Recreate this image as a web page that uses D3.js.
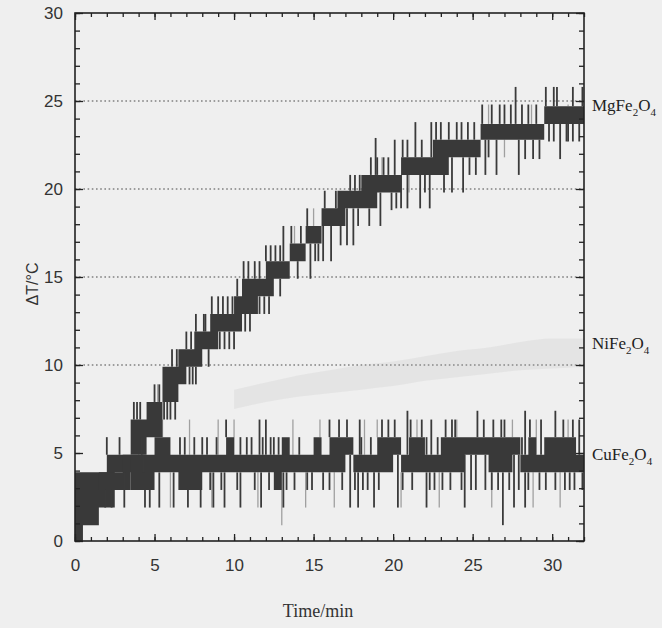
<!DOCTYPE html>
<html><head><meta charset="utf-8">
<script src="https://cdn.jsdelivr.net/npm/d3@7"></script>
<style>body{margin:0;background:#efefef}</style>
</head><body>
<svg id="c" width="662" height="628"></svg>
<script>
// ---- data ----
const seriesNames = ["MgFe2O4", "NiFe2O4", "CuFe2O4"];
const labelValue = [24.7, 11.2, 4.9];
const xTickValues = [0, 5, 10, 15, 20, 25, 30];
const yTickValues = [0, 5, 10, 15, 20, 25, 30];
const gridValues = [10, 15, 20, 25];

const timeMin = [0,0.5,1,1.5,2,2.5,3,3.5,4,4.5,5,5.5,6,6.5,7,7.5,8,8.5,9,9.5,10,10.5,11,11.5,12,12.5,13,13.5,14,14.5,15,15.5,16,16.5,17,17.5,18,18.5,19,19.5,20,20.5,21,21.5,22,22.5,23,23.5,24,24.5,25,25.5,26,26.5,27,27.5,28,28.5,29,29.5,30,30.5,31,31.5,32];

const mgLow = [0.0,0.9,0.9,1.9,1.9,2.9,2.9,4.9,4.9,5.9, 5.9,7.9,7.9,8.9,9.9,9.9,10.9,10.9,11.9,11.9, 11.9,12.9,12.9,13.9,13.9,14.9,14.9,15.9,15.9,16.9, 16.9,17.9,17.9,17.9,18.9,18.9,18.9,18.9,19.8,19.8, 19.8,20.8,20.8,20.8,20.8,20.8,20.8,21.8,21.8,21.8, 21.8,22.8,22.8,22.8,22.8,22.8,22.8,22.8,22.8,23.7, 23.7,23.7,23.7,23.7,23.7];
const mgHigh = [2.9,2.9,2.9,3.9,3.9,3.9,4.9,6.9,6.9,7.9, 7.9,9.9,9.9,10.9,10.9,11.9,11.9,12.9,12.9,12.9, 13.9,14.9,14.9,14.9,15.9,15.9,15.9,16.9,16.9,17.9, 17.9,18.9,18.9,19.9,19.9,19.9,20.8,20.8,20.8,20.8, 20.8,21.8,21.8,21.8,21.8,22.8,22.8,22.8,22.8,22.8, 22.8,23.7,23.7,23.7,23.7,23.7,23.7,23.7,23.7,24.7, 24.7,24.7,24.7,24.7,24.7];

const cuLow = [2.9,2.9,2.9,2.9,2.9,3.9,3.9,2.9,2.9,2.9, 3.9,3.9,3.9,2.9,2.9,2.9,3.9,3.9,3.9,3.9, 3.9,3.9,3.9,3.9,3.9,2.9,3.9,3.9,3.9,3.9, 3.9,3.9,3.9,3.9,4.9,3.9,3.9,3.9,3.9,3.9, 4.9,3.9,3.9,3.9,3.9,3.9,3.9,3.9,3.9,4.9, 4.9,4.9,3.9,3.9,3.9,4.9,3.9,3.9,3.9,3.9, 3.9,3.9,3.9,3.9,3.9];
const cuHigh = [3.9,3.9,3.9,3.9,4.9,4.9,4.9,4.9,4.9,4.9, 5.9,5.9,4.9,4.9,4.9,4.9,4.9,4.9,4.9,5.9, 4.9,4.9,4.9,4.9,4.9,4.9,5.9,4.9,4.9,4.9, 5.9,4.9,5.9,5.9,5.9,4.9,4.9,4.9,5.9,5.9, 5.9,4.9,5.9,5.9,4.9,4.9,5.9,5.9,5.9,5.9, 5.9,5.9,5.9,5.9,5.9,5.9,4.9,5.9,4.9,5.9, 5.9,5.9,5.9,4.9,4.9];

const niTime = [10,12,14,16,18,20,22,24,26,28,30,32];
const niLow  = [7.5,7.9,8.2,8.4,8.6,8.8,9.1,9.3,9.5,9.7,9.8,9.9];
const niHigh = [8.6,9.0,9.4,9.7,10.0,10.2,10.5,10.8,11.0,11.3,11.5,11.5];

const mgSpikeTime = [3.7,4.1,4.5,6.1,6.4,6.6,7.0,7.3,7.6,8.1,8.2,9.0,9.3,9.6,9.9,10.6,10.9,11.6,12.0,12.3,12.6,12.9,13.1,14.2,16.4,16.7,17.6,17.9,18.6,18.9,19.0,19.7,20.1,20.6,20.9,21.4,22.4,22.7,23.5,24.0,24.3,24.7,25.1,26.7,27.0,27.4,27.7,28.1,28.5,29.0,30.1,30.3,31.3,31.9,
  3.9,5.0,5.3,8.6,10.2,11.3,13.6,14.6,15.7,17.3,19.4,21.8,23.0,25.6,26.2,29.6,
  5.6,5.8,6.0,7.2,7.4,7.6,9.1,9.4,9.7,10.0,11.0,11.6,11.9,12.2,12.9,14.0,14.8,15.3,15.6,16.1,16.7,17.1,17.5,18.5,19.2,19.9,20.2,20.5,20.9,21.7,22.3,23.2,23.7,24.4,25.2,25.8,26.5,27.9,28.3,28.8,29.2,30.5,30.1,30.9,31.3,31.7,
  4.3,6.3,8.4,10.7,13.4,15.1,17.8,22.0,24.8,26.0,29.8,31.0];
const mgSpikeValue = [7.9,7.9,7.9,10.9,10.9,10.9,11.9,11.9,12.9,12.9,12.9,13.9,13.9,13.9,13.9,15.9,15.9,15.9,16.8,16.8,16.8,16.8,17.9,17.9,19.9,19.9,20.8,20.8,21.8,22.9,21.8,21.8,22.8,22.8,22.8,23.8,23.8,23.8,23.8,23.8,23.8,23.8,23.8,24.8,24.8,24.8,25.8,24.8,24.8,24.8,25.8,25.8,25.8,25.8,
  7.9,8.9,8.9,13.9,14.9,15.9,17.9,18.9,19.9,20.8,21.8,22.8,23.8,24.8,24.8,25.8,
  6.9,6.9,6.9,8.9,8.9,8.9,10.9,10.9,10.9,10.9,11.9,12.9,12.9,12.9,13.9,14.9,14.9,15.9,15.9,15.9,16.8,16.8,16.8,17.9,17.9,18.8,18.9,18.9,18.9,18.9,18.9,19.8,19.8,19.8,20.8,20.8,20.8,20.8,21.7,21.7,21.7,21.7,22.7,22.7,22.7,22.7,
  3.9,6.9,9.9,11.9,14.9,15.9,17.9,19.8,20.8,21.8,22.7,22.7];

const cuSpikeTime = [2.0,2.8,4.2,6.6,6.9,7.5,8.0,8.3,8.9,10.4,10.8,11.1,11.8,12.3,12.5,12.8,14.1,
  16.3,18.0,18.6,20.4,22.1,22.8,28.1,
  9.5,11.6,12.0,16.6,17.1,17.9,19.7,20.1,20.9,21.8,22.4,23.3,23.7,25.3,25.7,26.8,28.3,29.3,30.2,
  16.0,19.3,21.1,23.9,26.3,27.0,28.6,30.7,31.3,31.7,
  8.5,9.2,10.2,11.3,13.8,14.6,15.6,17.6,18.4,21.2,22.6,23.1,24.3,24.9,25.8,26.6,27.3,27.9,29.2,29.6,30.8,31.4,31.9,
  12.2,13.3,14.9,16.0,16.8,18.1,19.1,20.6,22.3,23.6,25.2,26.2,28.5,30.2,31.1,
  1.9,2.3,3.1,4.4,4.7,7.1,7.9,9.4,10.4,17.3,17.8,18.8,22.1,24.5,28.3,26.9,
  5.3,6.2,8.7,11.7,13.1,20.3,27.6];
const cuSpikeValue = [5.9,5.9,5.9,5.9,5.9,5.9,5.9,5.9,5.9,5.9,5.9,5.9,5.9,5.9,5.9,5.9,5.9,
  5.9,5.9,5.9,5.9,5.9,5.9,5.9,
  6.9,6.9,6.9,6.9,6.9,6.9,6.9,6.9,7.4,6.9,6.9,6.9,6.9,7.4,6.9,6.9,7.4,6.9,7.4,
  6.9,6.9,6.9,6.9,6.9,6.9,6.9,6.9,6.9,6.9,
  2.9,2.9,2.9,2.9,2.9,2.9,2.9,2.9,2.9,2.9,2.9,2.9,2.9,2.9,2.9,2.9,2.9,2.9,2.9,2.9,2.9,2.9,2.9,
  2.9,2.9,2.9,2.9,2.9,2.9,2.9,2.9,2.9,2.9,2.9,2.9,2.9,2.9,2.9,
  1.9,1.9,1.9,1.9,1.9,1.9,1.9,1.9,1.9,1.9,1.9,1.9,1.9,1.9,1.9,0.9,
  1.9,1.9,1.9,1.9,1.9,1.9,1.9];

const faintSpikeTime = [4.0,5.5,7.2,9.0,10.0,13.7,15.4,18.2,19.0,21.5,24.0,27.5,29.0,31.0,
  6.0,8.6,11.5,14.5,16.3,20.5,22.9,26.2,28.8,30.5,13.0,
  5.2,8.5,13.8,15.0,19.3,26.0,28.7,31.0,10.3,13.2,21.0,27.0];
const faintSpikeValue = [6.9,6.9,6.9,6.9,6.9,6.9,6.9,6.9,6.9,6.9,6.9,6.9,6.9,6.9,
  1.9,1.9,1.9,1.9,1.9,1.9,1.9,1.9,1.9,1.9,0.9,
  8.9,12.9,17.9,18.9,21.8,24.8,24.8,24.8,11.9,14.9,19.8,21.8];
const faintSeries = ["cu","cu","cu","cu","cu","cu","cu","cu","cu","cu","cu","cu","cu","cu",
  "cu","cu","cu","cu","cu","cu","cu","cu","cu","cu","cu",
  "mg","mg","mg","mg","mg","mg","mg","mg","mg","mg","mg","mg"];

// ---- chart ----
const W = 662, H = 628;
const m = {l: 75, r: 584, t: 13, b: 541};
const x = d3.scaleLinear().domain([0, 32]).range([m.l, m.r]);
const y = d3.scaleLinear().domain([0, 30]).range([m.b, m.t]);
const svg = d3.select("#c");
svg.append("rect").attr("width", W).attr("height", H).attr("fill", "#efefef");

// gridlines
svg.append("g").selectAll("line").data(gridValues).join("line")
  .attr("x1", m.l).attr("x2", m.r)
  .attr("y1", d => y(d)).attr("y2", d => y(d))
  .attr("stroke", "#4a4a4a").attr("stroke-width", 1.2).attr("stroke-dasharray", "1.6,2.6");

// NiFe2O4 faint trace
const niData = niTime.map((t, i) => ({t, lo: niLow[i], hi: niHigh[i]}));
svg.append("path").datum(niData)
  .attr("d", d3.area().x(d => x(d.t)).y0(d => y(d.lo)).y1(d => y(d.hi)).curve(d3.curveMonotoneX))
  .attr("fill", "#b0b0b0").attr("opacity", 0.16);

function bandData(lo, hi) { return timeMin.map((t, i) => ({t, lo: lo[i], hi: hi[i]})); }
const bandArea = d3.area().x(d => x(d.t)).y0(d => y(d.lo)).y1(d => y(d.hi)).curve(d3.curveStepAfter);

function spikeSegs(times, vals, lo, hi) {
  const out = [];
  times.forEach((t, i) => {
    const v = vals[i];
    let k = Math.min(timeMin.length - 2, Math.max(0, d3.bisectRight(timeMin, t) - 1));
    let base = null;
    if (v > hi[k]) base = hi[k]; else if (v < lo[k]) base = lo[k];
    if (base !== null) out.push({t, v, base});
  });
  return out;
}

const faintCu = spikeSegs(faintSpikeTime.filter((t, i) => faintSeries[i] === "cu"),
  faintSpikeValue.filter((t, i) => faintSeries[i] === "cu"), cuLow, cuHigh);
const faintMg = spikeSegs(faintSpikeTime.filter((t, i) => faintSeries[i] === "mg"),
  faintSpikeValue.filter((t, i) => faintSeries[i] === "mg"), mgLow, mgHigh);
svg.append("g").selectAll("line").data(faintCu.concat(faintMg)).join("line")
  .attr("x1", d => x(d.t)).attr("x2", d => x(d.t))
  .attr("y1", d => y(d.base)).attr("y2", d => y(d.v))
  .attr("stroke", "#a0a0a0").attr("stroke-width", 1.3);

const bandColor = "#393939";
svg.append("path").datum(bandData(cuLow, cuHigh)).attr("d", bandArea).attr("fill", bandColor);
svg.append("path").datum(bandData(mgLow, mgHigh)).attr("d", bandArea).attr("fill", bandColor);

const spikes = spikeSegs(cuSpikeTime, cuSpikeValue, cuLow, cuHigh)
  .concat(spikeSegs(mgSpikeTime, mgSpikeValue, mgLow, mgHigh));
svg.append("g").selectAll("line").data(spikes).join("line")
  .attr("x1", d => x(d.t)).attr("x2", d => x(d.t))
  .attr("y1", d => y(d.base)).attr("y2", d => y(d.v))
  .attr("stroke", "#3a3a3a").attr("stroke-width", 1.8);

// axes / ticks
const minorX = d3.range(0, 33, 1);
const minorY = d3.range(0, 31, 1);
const tickFont = "'Liberation Sans Narrow','Arial Narrow','Liberation Sans',sans-serif";
function styleAxis(g) {
  g.select(".domain").remove();
  g.selectAll(".tick line").attr("stroke", "#222").attr("stroke-width", 1.3);
  g.selectAll("text").attr("fill", "#333").attr("font-family", tickFont).attr("font-size", 17);
}
svg.append("g").attr("transform", `translate(0,${m.b})`)
  .call(d3.axisBottom(x).tickValues(minorX).tickSize(-4).tickFormat("")).call(styleAxis);
svg.append("g").attr("transform", `translate(0,${m.b})`)
  .call(d3.axisBottom(x).tickValues(xTickValues).tickSize(-7).tickPadding(18).tickFormat(d3.format("d"))).call(styleAxis);
svg.append("g").attr("transform", `translate(0,${m.t})`)
  .call(d3.axisTop(x).tickValues(minorX).tickSize(-4).tickFormat("")).call(styleAxis);
svg.append("g").attr("transform", `translate(0,${m.t})`)
  .call(d3.axisTop(x).tickValues(xTickValues).tickSize(-7).tickFormat("")).call(styleAxis);
svg.append("g").attr("transform", `translate(${m.l},0)`)
  .call(d3.axisLeft(y).tickValues(minorY).tickSize(-5).tickFormat("")).call(styleAxis);
svg.append("g").attr("transform", `translate(${m.l},0)`)
  .call(d3.axisLeft(y).tickValues(yTickValues).tickSize(-8).tickPadding(12).tickFormat(d3.format("d"))).call(styleAxis);
svg.append("g").attr("transform", `translate(${m.r},0)`)
  .call(d3.axisRight(y).tickValues(minorY).tickSize(-5).tickFormat("")).call(styleAxis);
svg.append("g").attr("transform", `translate(${m.r},0)`)
  .call(d3.axisRight(y).tickValues(yTickValues).tickSize(-8).tickFormat("")).call(styleAxis);

// frame
svg.append("rect").attr("x", m.l).attr("y", m.t).attr("width", m.r - m.l).attr("height", m.b - m.t)
  .attr("fill", "none").attr("stroke", "#222").attr("stroke-width", 1.6);

// axis titles
svg.append("text").attr("x", 318).attr("y", 617).attr("text-anchor", "middle")
  .attr("font-family", "'Liberation Serif','Times New Roman',serif").attr("font-size", 18).attr("fill", "#333")
  .text("Time/min");
svg.append("text").attr("transform", "translate(38,284) rotate(-90)").attr("text-anchor", "middle")
  .attr("font-family", "'Liberation Sans','Arial',sans-serif").attr("font-size", 16).attr("fill", "#333")
  .text("ΔT/°C");

// series labels with subscripts
seriesNames.forEach((name, i) => {
  const parts = name.match(/[A-Za-z]+|\d+/g);
  const t = svg.append("text").attr("x", 592).attr("y", y(labelValue[i]) + 5)
    .attr("font-family", "'Liberation Serif','Times New Roman',serif").attr("font-size", 17).attr("fill", "#222");
  let sub = false;
  parts.forEach(p => {
    const isNum = /^\d+$/.test(p);
    const ts = t.append("tspan").text(p);
    if (isNum && !sub) { ts.attr("dy", 5).attr("font-size", 11); sub = true; }
    else if (!isNum && sub) { ts.attr("dy", -5); sub = false; }
  });
});
</script>
</body></html>
